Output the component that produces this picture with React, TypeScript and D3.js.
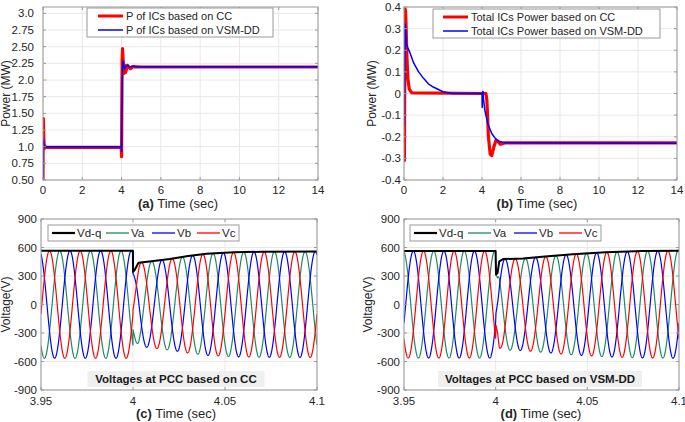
import React from 'react';
import * as d3 from 'd3';

// ---------- Panel (a): power of ICs ----------
const aXTicks = ['0', '2', '4', '6', '8', '10', '12', '14'];
const aYTicks = ['0.50', '0.75', '1.0', '1.25', '1.50', '1.75', '2.0', '2.25', '2.50', '2.75', '3.0'];
const aLegend = ['P of ICs based on CC', 'P of ICs based on VSM-DD'];
const aCCTime = [0, 0.005, 0.02, 0.04, 0.07, 0.1, 0.2, 3.98, 4.0, 4.01, 4.03, 4.05, 4.08, 4.12, 4.16, 4.2, 4.3, 4.45, 4.6, 5.0, 14];
const aCCPower = [0.5, 1.0, 1.42, 1.12, 0.97, 1.0, 0.99, 0.99, 0.85, 1.5, 2.3, 2.47, 2.3, 2.1, 2.22, 2.11, 2.22, 2.17, 2.2, 2.195, 2.195];
const aVSMTime = [0, 0.01, 0.03, 0.05, 0.08, 0.12, 0.2, 3.99, 4.0, 4.01, 4.04, 4.07, 4.1, 4.15, 4.22, 4.3, 4.4, 4.55, 4.7, 14];
const aVSMPower = [0.5, 0.9, 1.1, 1.0, 1.03, 0.99, 1.0, 1.0, 0.93, 1.3, 2.1, 2.28, 2.24, 2.17, 2.2, 2.22, 2.19, 2.21, 2.2, 2.2];

// ---------- Panel (b): total ICs power ----------
const bXTicks = ['0', '2', '4', '6', '8', '10', '12', '14'];
const bYTicks = ['-0.4', '-0.3', '-0.2', '-0.1', '0', '0.1', '0.2', '0.3', '0.4'];
const bLegend = ['Total ICs Power based on CC', 'Total ICs Power based on VSM-DD'];
const bCCTime = [0, 0.02, 0.04, 0.06, 0.08, 0.11, 0.15, 0.2, 0.27, 0.4, 4.2, 4.25, 4.33, 4.42, 4.5, 4.6, 4.72, 4.8, 4.95, 5.2, 14];
const bCCPower = [0.13, -0.31, 0.1, 0.39, 0.38, 0.3, 0.17, 0.07, 0.02, 0.003, 0.0, -0.03, -0.2, -0.28, -0.287, -0.25, -0.215, -0.22, -0.235, -0.228, -0.228];
const bVSMTime = [0, 0.03, 0.07, 0.12, 0.2, 0.3, 0.5, 0.75, 1.0, 1.25, 1.5, 2.0, 2.5, 4.0, 4.01, 4.03, 4.05, 4.07, 4.15, 4.3, 4.5, 4.7, 4.9, 5.2, 14];
const bVSMPower = [-0.15, 0.1, 0.32, 0.23, 0.21, 0.19, 0.14, 0.1, 0.07, 0.045, 0.03, 0.008, 0.0, 0.0, -0.065, 0.005, 0.01, -0.02, -0.08, -0.14, -0.185, -0.21, -0.222, -0.228, -0.23];

// ---------- Panels (c), (d): PCC voltages ----------
const vXTicks = ['3.95', '4', '4.05', '4.1'];
const vYTicks = ['-900', '-600', '-300', '0', '300', '600', '900'];
const vLegend = ['Vd-q', 'Va', 'Vb', 'Vc'];
const gridFrequencyHz = 60;
const phaseShiftDeg = [0, -120, 120];
const cPhaseAStartDeg = -130;
const dPhaseAStartDeg = 100;
const cVdqTime = [3.95, 3.99995, 4.0, 4.0008, 4.003, 4.01, 4.02, 4.03, 4.04, 4.055, 4.07, 4.1];
const cVdqValue = [565, 565, 345, 360, 440, 455, 480, 510, 535, 550, 555, 557];
const dVdqTime = [3.95, 3.99995, 4.0002, 4.001, 4.002, 4.004, 4.015, 4.027, 4.042, 4.06, 4.08, 4.1];
const dVdqValue = [563, 563, 315, 330, 455, 478, 485, 505, 530, 550, 562, 565];

const RED = '#ff0000';
const BLUE = '#0000ff';
const GREEN = '#1f8a5e';
const BLACK = '#000000';
const FONT = '"Liberation Sans", Arial, Helvetica, sans-serif';
const AXIS = '#9a9a9a';
const GRID = '#e8e8e8';
const TEXT = '#262626';

type Series = { xs: number[]; ys: number[]; color: string; width: number };

type PanelProps = {
  id: string;
  left: number; top: number; right: number; bottom: number;
  xDomain: [number, number]; yDomain: [number, number];
  xTicks: string[]; yTicks: string[];
  series: Series[];
  yLabel: string; yLabelX: number; yTickGap: number;
  tag: string; xLabelCx: number; xLabelY: number; xTickDy: number;
  children?: (x: d3.ScaleLinear<number, number>, y: d3.ScaleLinear<number, number>) => React.ReactNode;
};

function Panel(p: PanelProps) {
  const x = d3.scaleLinear().domain(p.xDomain).range([p.left, p.right]);
  const y = d3.scaleLinear().domain(p.yDomain).range([p.bottom, p.top]);
  const line = d3.line<[number, number]>().x(d => x(d[0])).y(d => y(d[1]));
  const midY = (p.top + p.bottom) / 2;
  return (
    <g>
      <defs>
        <clipPath id={p.id}>
          <rect x={p.left} y={p.top} width={p.right - p.left} height={p.bottom - p.top} />
        </clipPath>
      </defs>
      <rect x={p.left} y={p.top} width={p.right - p.left} height={p.bottom - p.top} fill="#fff" />
      {p.xTicks.map(t => (
        <line key={'gx' + t} x1={x(+t)} x2={x(+t)} y1={p.top} y2={p.bottom} stroke={GRID} strokeWidth={1} />
      ))}
      {p.yTicks.map(t => (
        <line key={'gy' + t} x1={p.left} x2={p.right} y1={y(+t)} y2={y(+t)} stroke={GRID} strokeWidth={1} />
      ))}
      <g clipPath={`url(#${p.id})`}>
        {p.series.map((s, i) => (
          <path key={i} d={line(s.xs.map((v, j) => [v, s.ys[j]] as [number, number])) || ''}
            fill="none" stroke={s.color} strokeWidth={s.width} strokeLinejoin="round" />
        ))}
      </g>
      <rect x={p.left} y={p.top} width={p.right - p.left} height={p.bottom - p.top} fill="none" stroke={AXIS} strokeWidth={1} />
      {p.xTicks.map(t => (
        <g key={'tx' + t}>
          <line x1={x(+t)} x2={x(+t)} y1={p.bottom} y2={p.bottom - 3} stroke={AXIS} />
          <line x1={x(+t)} x2={x(+t)} y1={p.top} y2={p.top + 3} stroke={AXIS} />
          <text x={x(+t)} y={p.bottom + p.xTickDy} textAnchor="middle" fontSize={11.5} fill={TEXT}>{t}</text>
        </g>
      ))}
      {p.yTicks.map(t => (
        <g key={'ty' + t}>
          <line x1={p.left} x2={p.left + 3} y1={y(+t)} y2={y(+t)} stroke={AXIS} />
          <line x1={p.right} x2={p.right - 3} y1={y(+t)} y2={y(+t)} stroke={AXIS} />
          <text x={p.left - p.yTickGap} y={y(+t) + 4} textAnchor="end" fontSize={11.5} fill={TEXT}>{t}</text>
        </g>
      ))}
      <text transform={`translate(${p.yLabelX},${midY}) rotate(-90)`} textAnchor="middle" fontSize={12} fill={TEXT}>{p.yLabel}</text>
      <text x={p.xLabelCx} y={p.xLabelY} textAnchor="middle" fontSize={13} fill={TEXT}>
        <tspan fontWeight="bold">{p.tag}</tspan> Time (sec)
      </text>
      {p.children && p.children(x, y)}
    </g>
  );
}

function phaseSeries(vdqTime: number[], vdqValue: number[], startDeg: number): Series[] {
  const env = d3.scaleLinear().domain(vdqTime).range(vdqValue).clamp(true);
  const ts = d3.range(3.95, 4.1 + 1e-9, 0.00005);
  const colors = [GREEN, BLUE, RED];
  return phaseShiftDeg.map((sh, k) => ({
    xs: ts,
    ys: ts.map(t => env(t) * Math.sin(2 * Math.PI * gridFrequencyHz * (t - 3.95) + (startDeg + sh) * Math.PI / 180)),
    color: colors[k],
    width: 1.2,
  }));
}

function VLegend({ left, top }: { left: number; top: number }) {
  const offs = [4, 58, 104, 149];
  const colors = [BLACK, GREEN, BLUE, RED];
  const widths = [2.2, 1.3, 1.3, 1.3];
  return (
    <g>
      <rect x={left} y={top} width={191} height={16} fill="#fff" stroke={AXIS} strokeWidth={1} />
      {vLegend.map((name, i) => (
        <g key={name}>
          <line x1={left + offs[i]} x2={left + offs[i] + 23} y1={top + 8} y2={top + 8} stroke={colors[i]} strokeWidth={widths[i]} />
          <text x={left + offs[i] + 25} y={top + 12} fontSize={11.5} fill={TEXT}>{name}</text>
        </g>
      ))}
    </g>
  );
}

function PLegend({ left, top, width, labels, lineX0 }: { left: number; top: number; width: number; labels: string[]; lineX0: number }) {
  const colors = [RED, BLUE];
  const widths = [3, 1.5];
  return (
    <g>
      <rect x={left} y={top} width={width} height={29} fill="#fff" stroke={AXIS} strokeWidth={1} />
      {labels.map((name, i) => (
        <g key={name}>
          <line x1={left + lineX0} x2={left + lineX0 + 25} y1={top + 8 + i * 14} y2={top + 8 + i * 14} stroke={colors[i]} strokeWidth={widths[i]} />
          <text x={left + lineX0 + 28} y={top + 12 + i * 14} fontSize={11} fill={TEXT}>{name}</text>
        </g>
      ))}
    </g>
  );
}

function NoteBox({ cx, y, w, text }: { cx: number; y: number; w: number; text: string }) {
  return (
    <g>
      <rect x={cx - w / 2} y={y} width={w} height={16} fill="#efefef" />
      <text x={cx} y={y + 12} textAnchor="middle" fontSize={11.5} fontWeight="bold" fill="#1a1a1a">{text}</text>
    </g>
  );
}

export default function App() {
  const cPhases = phaseSeries(cVdqTime, cVdqValue, cPhaseAStartDeg);
  const dPhases = phaseSeries(dVdqTime, dVdqValue, dPhaseAStartDeg);
  return (
    <svg width={685} height={422} style={{ position: 'absolute', left: 0, top: 0, background: '#fff' }} fontFamily={FONT}>
      <rect width={685} height={422} fill="#fff" />
      <Panel id="ca" left={43} top={7} right={318} bottom={180} xDomain={[0, 14]} yDomain={[0.5, 3.095]}
        xTicks={aXTicks} yTicks={aYTicks}
        series={[
          { xs: aCCTime, ys: aCCPower, color: RED, width: 3.2 },
          { xs: aVSMTime, ys: aVSMPower, color: BLUE, width: 1.5 },
        ]}
        yLabel="Power (MW)" yLabelX={9.5} yTickGap={9} tag="(a)" xLabelCx={178} xLabelY={208} xTickDy={14}>
        {() => <PLegend left={87} top={8} width={186} labels={aLegend} lineX0={11} />}
      </Panel>
      <Panel id="cb" left={404} top={7} right={677} bottom={180} xDomain={[0, 14]} yDomain={[-0.4, 0.4]}
        xTicks={bXTicks} yTicks={bYTicks}
        series={[
          { xs: bCCTime, ys: bCCPower, color: RED, width: 3.2 },
          { xs: bVSMTime, ys: bVSMPower, color: BLUE, width: 1.5 },
        ]}
        yLabel="Power (MW)" yLabelX={376} yTickGap={3} tag="(b)" xLabelCx={537} xLabelY={208} xTickDy={14}>
        {() => <PLegend left={433} top={9} width={227} labels={bLegend} lineX0={10} />}
      </Panel>
      <Panel id="cc" left={41} top={219} right={317} bottom={390} xDomain={[3.95, 4.1]} yDomain={[-900, 900]}
        xTicks={vXTicks} yTicks={vYTicks}
        series={[...cPhases, { xs: cVdqTime, ys: cVdqValue, color: BLACK, width: 2 }]}
        yLabel="Voltage(V)" yLabelX={10} yTickGap={4} tag="(c)" xLabelCx={176} xLabelY={418} xTickDy={15}>
        {() => (
          <g>
            <VLegend left={48} top={225} />
            <NoteBox cx={176} y={371} w={177} text="Voltages at PCC based on CC" />
          </g>
        )}
      </Panel>
      <Panel id="cd" left={404} top={219} right={679} bottom={390} xDomain={[3.95, 4.1]} yDomain={[-900, 900]}
        xTicks={vXTicks} yTicks={vYTicks}
        series={[...dPhases, { xs: dVdqTime, ys: dVdqValue, color: BLACK, width: 2 }]}
        yLabel="Voltage(V)" yLabelX={372} yTickGap={4} tag="(d)" xLabelCx={541} xLabelY={418} xTickDy={15}>
        {() => (
          <g>
            <VLegend left={410} top={225} />
            <NoteBox cx={540} y={371} w={204} text="Voltages at PCC based on VSM-DD" />
          </g>
        )}
      </Panel>
    </svg>
  );
}
